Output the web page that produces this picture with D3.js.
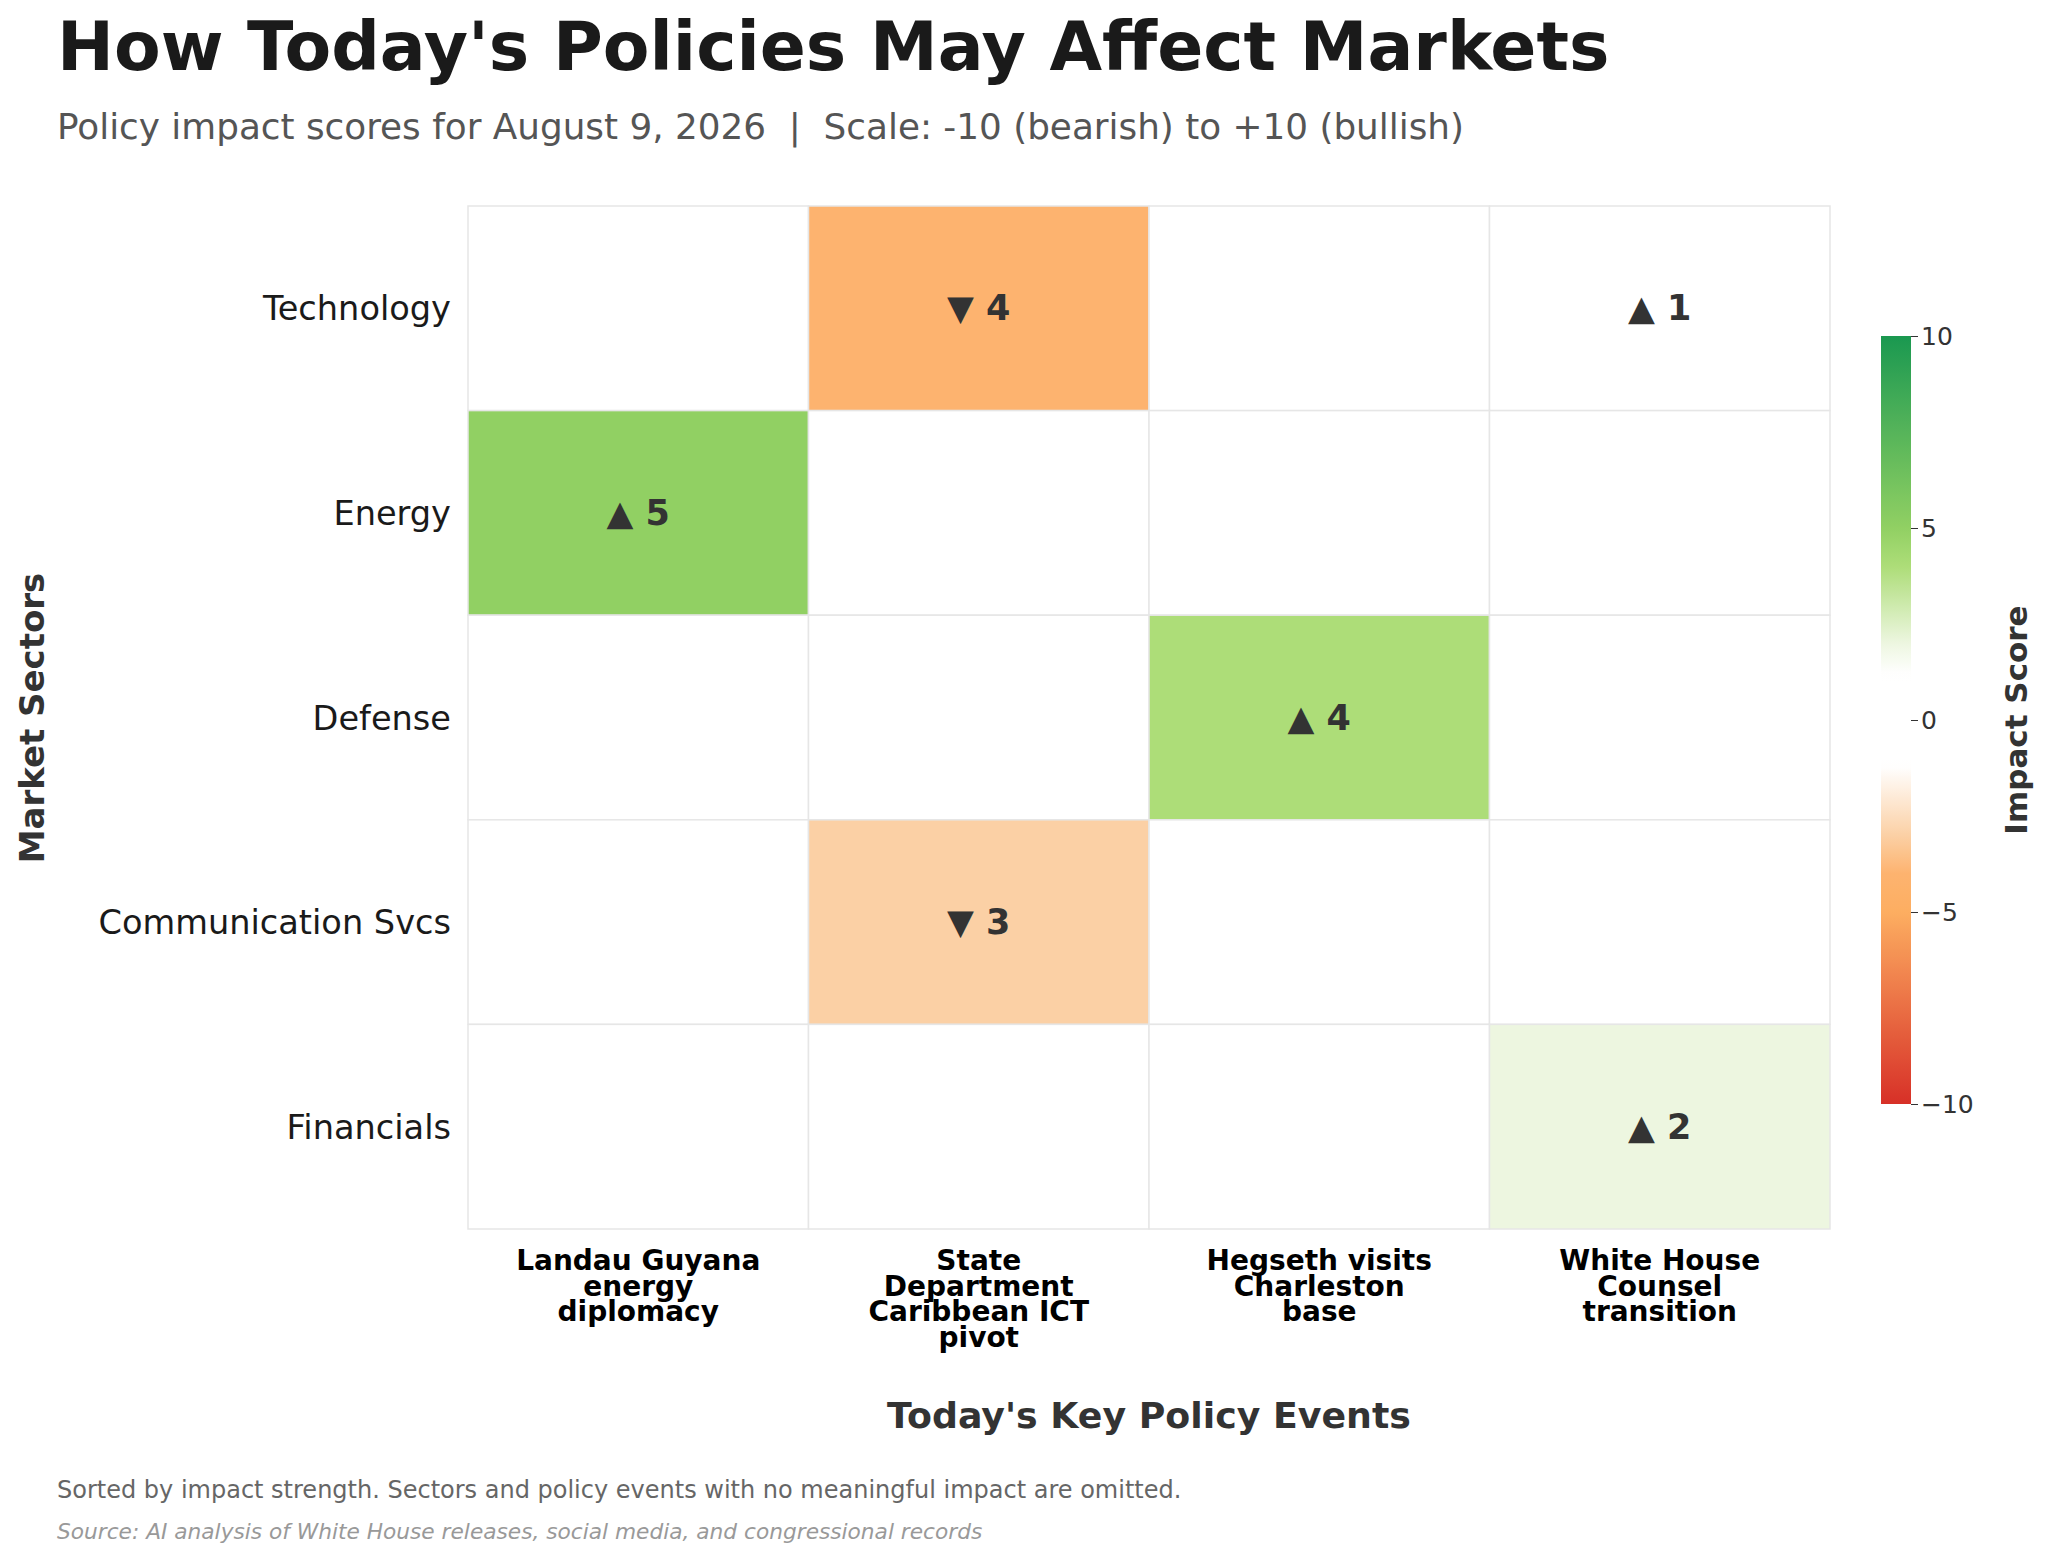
<!DOCTYPE html>
<html><head><meta charset="utf-8">
<script src="https://cdn.jsdelivr.net/npm/d3@7"></script>
<style>body{margin:0;background:#fff;font-family:"DejaVu Sans",sans-serif;} text{white-space:pre;}</style>
</head><body><svg id="c" width="2048" height="1561"></svg>
<script>
var sectors = ["Technology","Energy","Defense","Communication Svcs","Financials"];
var events = [["Landau Guyana","energy","diplomacy"],["State","Department","Caribbean ICT","pivot"],["Hegseth visits","Charleston","base"],["White House","Counsel","transition"]];
// scores[row][col], null = no impact
var scores = [
  [null,-4,null,1],
  [5,null,null,null],
  [null,null,4,null],
  [null,-3,null,null],
  [null,null,null,2]
];
var cbTicks = [10,5,0,-5,-10];

var svg = d3.select("#c");
var color = d3.scaleLinear().domain([-10,-5,-4,-3,-1.2,1.2,2,4,5,10])
  .range(["#d73027","#fdae61","#fdb36f","#fbd0a5","#ffffff","#ffffff","#edf6e0","#addd78","#91d063","#1a9850"]).clamp(true);

var x = d3.scaleBand().domain(d3.range(events.length)).range([468,1830]);
var y = d3.scaleBand().domain(sectors).range([206,1229]);

svg.append("text").attr("x",57).attr("y",70).attr("font-size",68).attr("font-weight","bold").attr("fill","#1a1a1a")
  .text("How Today's Policies May Affect Markets");
svg.append("text").attr("x",57).attr("y",139).attr("font-size",35.8).attr("fill","#555")
  .text("Policy impact scores for August 9, 2026  |  Scale: -10 (bearish) to +10 (bullish)");

var cells = [];
scores.forEach(function(r,i){ r.forEach(function(v,j){ cells.push({s:sectors[i],e:j,v:v}); }); });
svg.selectAll("rect.cell").data(cells).enter().append("rect").attr("class","cell")
  .attr("x",function(d){return x(d.e);}).attr("y",function(d){return y(d.s);})
  .attr("width",x.bandwidth()).attr("height",y.bandwidth())
  .attr("fill",function(d){return d.v==null?"#fff":color(d.v);})
  .attr("stroke","#e6e6e6").attr("stroke-width",1.5);
svg.selectAll("text.ann").data(cells.filter(function(d){return d.v!=null;})).enter().append("text")
  .attr("x",function(d){return x(d.e)+x.bandwidth()/2;}).attr("y",function(d){return y(d.s)+y.bandwidth()/2+12;})
  .attr("text-anchor","middle").attr("font-size",35).attr("font-weight","bold").attr("fill","#333")
  .text(function(d){return (d.v>0?"▲ ":"▼ ")+Math.abs(d.v);});

svg.selectAll("text.row").data(sectors).enter().append("text")
  .attr("x",451).attr("y",function(d){return y(d)+y.bandwidth()/2+12;})
  .attr("text-anchor","end").attr("font-size",33.6).attr("fill","#1a1a1a").text(function(d){return d;});

events.forEach(function(lines,j){
  var t = svg.append("text").attr("text-anchor","middle").attr("font-size",28).attr("font-weight","bold").attr("fill","#000");
  lines.forEach(function(l,k){
    t.append("tspan").attr("x",x(j)+x.bandwidth()/2).attr("y",1270+k*25.5).text(l);
  });
});

svg.append("text").attr("x",1149).attr("y",1428).attr("text-anchor","middle").attr("font-size",36.3).attr("font-weight","bold").attr("fill","#333")
  .text("Today's Key Policy Events");
svg.append("text").attr("transform","translate(44,718) rotate(-90)").attr("text-anchor","middle").attr("font-size",34).attr("font-weight","bold").attr("fill","#333")
  .text("Market Sectors");

// colorbar
var cy = d3.scaleLinear().domain([-10,10]).range([1104,336]);
var defs = svg.append("defs");
var g = defs.append("linearGradient").attr("id","cb").attr("x1",0).attr("y1",1).attr("x2",0).attr("y2",0);
d3.range(-10,10.01,0.25).forEach(function(v){
  g.append("stop").attr("offset",(v+10)/20).attr("stop-color",color(v));
});
svg.append("rect").attr("x",1881).attr("y",336).attr("width",30).attr("height",768).attr("fill","url(#cb)");
svg.append("g").attr("transform","translate(1911,0)")
  .call(d3.axisRight(cy).tickValues(cbTicks).tickSize(7).tickFormat(function(d){return d<0?"−"+Math.abs(d):d;}))
  .call(function(a){a.select(".domain").remove();a.selectAll("text").attr("font-size",25).attr("font-family","DejaVu Sans").attr("fill","#333");a.selectAll("line").attr("stroke","#333");});
svg.append("text").attr("transform","translate(2027,720) rotate(-90)").attr("text-anchor","middle").attr("font-size",31).attr("font-weight","bold").attr("fill","#333")
  .text("Impact Score");

svg.append("text").attr("x",57).attr("y",1498).attr("font-size",24).attr("fill","#666")
  .text("Sorted by impact strength. Sectors and policy events with no meaningful impact are omitted.");
svg.append("text").attr("x",57).attr("y",1539).attr("font-size",21.7).attr("font-style","italic").attr("fill","#999")
  .text("Source: AI analysis of White House releases, social media, and congressional records");
</script></body></html>
